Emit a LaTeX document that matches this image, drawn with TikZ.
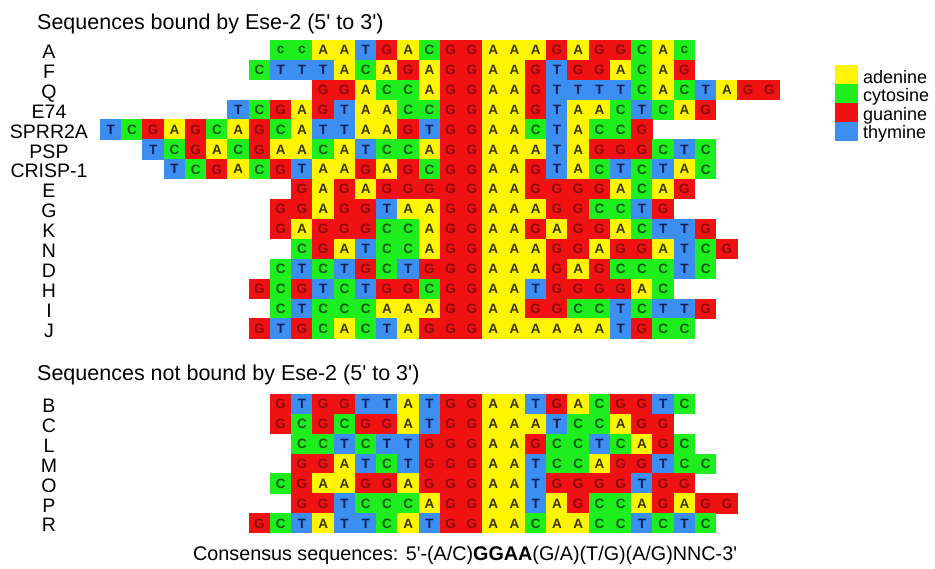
\documentclass[tikz,border=0pt]{standalone}
\usepackage{fontspec}
\setmainfont{Liberation Sans}
\definecolor{nA}{HTML}{FFF500}
\definecolor{nC}{HTML}{1EEE1E}
\definecolor{nG}{HTML}{F01212}
\definecolor{nT}{HTML}{3C8EF0}
\definecolor{tA}{HTML}{3A3400}
\definecolor{tC}{HTML}{0A5A0A}
\definecolor{tG}{HTML}{8A0A0A}
\definecolor{tT}{HTML}{0A1E5A}
\tikzset{
  cell/.style={rectangle, inner sep=0pt, minimum width=21.5pt, minimum height=20.2pt,
    font=\fontsize{13.5}{14}\selectfont\bfseries},
  cellA/.style={fill=nA, text=tA},
  cellC/.style={fill=nC, text=tC},
  cellc/.style={fill=nC, text=tC},
  cellG/.style={fill=nG, text=tG},
  cellT/.style={fill=nT, text=tT},
  lab/.style={anchor=base, inner sep=0pt, font=\fontsize{19.5}{20}\selectfont},
  head/.style={anchor=base west, inner sep=0pt, font=\fontsize{21.5}{22}\selectfont},
  legsw/.style={rectangle, inner sep=0pt, minimum width=23pt, minimum height=19pt, anchor=north west},
  legtx/.style={anchor=base west, inner sep=0pt, font=\fontsize{18}{18}\selectfont}
}
\newcommand\seqrow[4]{%
  \foreach \ch [count=\k from 0] in {#4} {
    \pgfmathsetmacro\cx{100+(#3+\k)*21.25+10.625}
    \node[cell, cell\ch] (#1-\k) at (\cx, #2+9.95) {\ch};
  }%
  \node[lab] (l#1) at (49, #2+18.5) {#1};
}
\begin{document}
\begin{tikzpicture}[x=1pt, y=-1pt]
\useasboundingbox (0,0) rectangle (935,568);
\node[head] (t1) at (37, 29) {Sequences bound by Ese-2 (5\textquotesingle{} to 3\textquotesingle)};
\seqrow{A}{40}{8}{c,c,A,A,T,G,A,C,G,G,A,A,A,G,A,G,G,C,A,c}
\seqrow{F}{59.9}{7}{C,T,T,T,A,C,A,G,A,G,G,A,A,G,T,G,G,A,C,A,G}
\seqrow{Q}{79.8}{10}{G,G,A,C,C,A,G,G,A,A,G,T,T,T,T,C,A,C,T,A,G,G}
\seqrow{E74}{99.7}{6}{T,C,G,A,G,T,A,A,C,C,G,G,A,A,G,T,A,A,C,T,C,A,G}
\seqrow{SPRR2A}{119.6}{0}{T,C,G,A,G,C,A,G,C,A,T,T,A,A,G,T,G,G,A,A,C,T,A,C,C,G}
\seqrow{PSP}{139.5}{2}{T,C,G,A,C,G,A,A,C,A,T,C,C,A,G,G,A,A,A,T,A,G,G,G,C,T,C}
\seqrow{CRISP-1}{159.4}{3}{T,C,G,A,C,G,T,A,A,G,A,G,C,G,G,A,A,G,T,A,C,T,C,T,A,C}
\seqrow{E}{179.3}{9}{G,A,G,A,G,G,G,G,G,A,A,G,G,G,G,A,C,A,G}
\seqrow{G}{199.2}{8}{G,G,A,G,G,T,A,A,G,G,A,A,A,G,G,C,C,T,G}
\seqrow{K}{219.1}{8}{G,A,G,G,G,C,C,A,G,G,A,A,G,A,G,G,A,C,T,T,G}
\seqrow{N}{239}{9}{C,G,A,T,C,C,A,G,G,A,A,A,G,G,A,G,G,A,T,C,G}
\seqrow{D}{258.9}{8}{C,T,C,T,G,C,T,G,G,G,A,A,A,G,A,G,C,C,C,T,C}
\seqrow{H}{278.8}{7}{G,C,G,T,C,T,G,G,C,G,G,A,A,T,G,G,G,G,A,C}
\seqrow{I}{298.7}{8}{C,T,C,C,C,A,A,A,G,G,A,A,G,G,C,C,T,C,T,T,G}
\seqrow{J}{318.6}{7}{G,T,G,C,A,C,T,A,G,G,G,A,A,A,A,A,A,T,G,C,C}
\node[head] (t2) at (37, 380) {Sequences not bound by Ese-2 (5\textquotesingle{} to 3\textquotesingle)};
\seqrow{B}{394}{8}{G,T,G,G,T,T,A,T,G,G,A,A,T,G,A,C,G,G,T,C}
\seqrow{C}{413.9}{8}{G,C,G,C,G,G,A,T,G,G,A,A,A,T,C,C,A,G,G}
\seqrow{L}{433.8}{9}{C,C,T,C,T,T,G,G,G,A,A,G,C,C,T,C,A,G,C}
\seqrow{M}{453.7}{9}{G,G,A,T,C,T,G,G,G,A,A,T,C,C,A,G,G,T,C,C}
\seqrow{O}{473.6}{8}{C,G,A,A,G,G,A,G,G,G,A,A,T,G,G,G,G,T,G,G}
\seqrow{P}{493.5}{9}{G,G,T,C,C,C,A,G,G,A,A,T,A,G,C,C,A,G,A,G,G}
\seqrow{R}{513.4}{7}{G,C,T,A,T,T,C,A,T,G,G,A,A,C,A,A,C,C,T,C,T,C}
\node[anchor=base west, inner sep=0pt, font=\fontsize{19.75}{20}\selectfont] (cons) at (193, 560)
  {Consensus sequences: 5\textquotesingle-(A/C)\textbf{GGAA}(G/A)(T/G)(A/G)NNC-3\textquotesingle};
\node[legsw, fill=nA] (swA) at (835, 65) {};
\node[legsw, fill=nC] (swC) at (835, 84) {};
\node[legsw, fill=nG] (swG) at (835, 103) {};
\node[legsw, fill=nT] (swT) at (835, 122) {};
\node[legtx] (ltA) at (863, 83) {adenine};
\node[legtx] (ltC) at (863, 101.5) {cytosine};
\node[legtx] (ltG) at (863, 120) {guanine};
\node[legtx] (ltT) at (863, 138.5) {thymine};
\end{tikzpicture}
\end{document}
